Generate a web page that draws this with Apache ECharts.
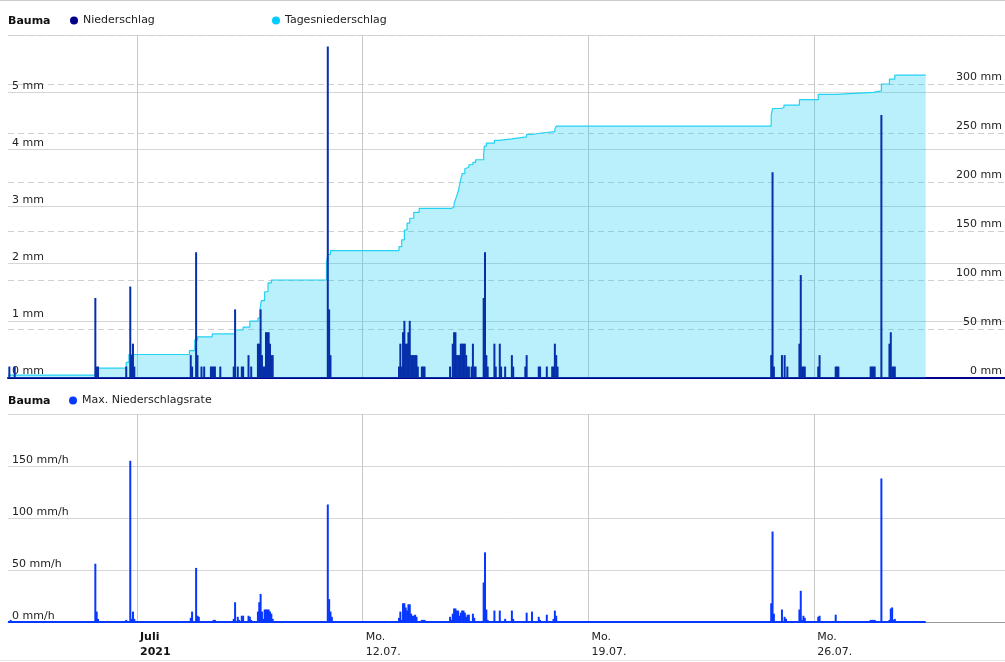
<!DOCTYPE html>
<html>
<head>
<meta charset="utf-8">
<script src="https://cdn.jsdelivr.net/npm/echarts@6/dist/echarts.min.js"></script>
<style>
html,body{margin:0;padding:0;background:#fff;}
#chart{width:1005px;height:662px;}
</style>
</head>
<body>
<div id="chart"></div>
<script>
// x values are hours since 01.07.2021 00:00
const station = 'Bauma';
const weekTicks = [96, 264, 432, 600];
const weekLabels = [['Juli', '2021'], ['Mo.', '12.07.'], ['Mo.', '19.07.'], ['Mo.', '26.07.']];
const xMaxHours = 742;

// Niederschlag (mm) per hour: [hour, mm]
const niederschlag = [
  [1,0.2],[5,0.2],[65,1.4],[66,0.2],[67,0.2],
  [88,0.2],[91,1.6],[92,0.4],[93,0.6],[94,0.2],
  [136,0.4],[137,0.2],[140,2.2],[141,0.4],
  [144,0.2],[146,0.2],[151,0.2],[152,0.2],[153,0.2],[154,0.2],[158,0.2],
  [168,0.2],[169,1.2],[171,0.2],[174,0.2],[175,0.2],[179,0.4],[181,0.2],
  [186,0.6],[187,0.6],[188,1.2],[189,0.4],[190,0.2],[191,0.2],[192,0.8],[193,0.8],[194,0.8],[195,0.6],[196,0.4],[197,0.4],
  [238,5.8],[239,1.2],[240,0.4],
  [291,0.2],[292,0.6],[293,0.2],[294,0.8],[295,1.0],[296,0.6],[297,0.6],[298,0.8],[299,1.0],[300,0.4],[301,0.4],[302,0.4],[303,0.4],[304,0.4],[305,0.2],
  [308,0.2],[309,0.2],[310,0.2],
  [329,0.2],[331,0.6],[332,0.8],[333,0.8],[334,0.4],[335,0.4],[336,0.4],[337,0.6],[338,0.6],[339,0.6],[340,0.6],[341,0.4],[342,0.2],[343,0.2],[345,0.2],[346,0.6],[347,0.2],[348,0.2],
  [354,1.4],[355,2.2],[356,0.4],[357,0.2],
  [362,0.6],[363,0.2],[366,0.6],[367,0.2],[370,0.2],[375,0.4],[376,0.2],[385,0.2],[386,0.4],[395,0.2],[396,0.2],[401,0.2],[405,0.2],[406,0.2],[407,0.6],[408,0.4],[409,0.2],
  [568,0.4],[569,3.6],[570,0.2],[576,0.4],[578,0.4],[580,0.2],[589,0.6],[590,1.8],[591,0.2],[592,0.2],[593,0.2],[603,0.2],[604,0.4],[616,0.2],[617,0.2],[618,0.2],
  [642,0.2],[643,0.2],[644,0.2],[645,0.2],[650,4.6],[656,0.6],[657,0.8],[658,0.2],[659,0.2],[660,0.2]
];

// Tagesniederschlag (cumulated mm): [hour, mm], value holds until next point
const tagesniederschlag = [
  [0,3],[65,6],[67,10],[88,16],[90,24],[135,28],[139,39],[141,42],[152,45],[169,49],[175,52],[180,58],
  [186,61],[187.5,69],[188.5,79],[191,88],[193.5,97],[196,100],[237,118],[238,126],[240,130],
  [291,134],[293,141],[295,151],[297,158],[299,163],[302,169],[306,173],[330,174.5],[332,178],[333,182],[334,186],
  [335,190],[336,196.5],[337,203],[338,208.5],[340,213.5],[341,215],[343,217.6],[346,220],[348,222.7],[354,228],
  [354.5,236.6],[356,239.6],[362,242.4],[365.5,244],[375,246],[386,248.5],[390,249.5],[394.5,250.5],[400.5,251.5],
  [407,254],[408,257],[568,268],[569,275],[575.5,276],[577.5,278.5],[589,284],[603,289.5],[616,291.5],[644,293],
  [650,300],[656,305],[660,309],[683,309]
];

// Max. Niederschlagsrate (mm/h): [hour, mm/h]
const maxRate = [
  [2,2],[6,1],[65,56],[66,10],[67,3],[68,1],[88,2],[91,155],[92,3],[93,10],[94,3],
  [136,4],[137,10],[140,52],[141,6],[142,5],[153,2],[154,2],[168,3],[169,19],[171,5],[172,2],[174,6],[175,6],
  [179,6],[180,5],[181,2],[186,10],[187,19],[188,27],[189,10],[190,3],[191,12],[192,12],[193,12],[194,12],[195,10],[196,8],[197,3],
  [238,113],[239,22],[240,10],[241,5],[242,1],
  [291,4],[292,10],[293,2],[294,18],[295,18],[296,14],[297,11],[298,17],[299,17],[300,8],[301,6],[302,6],[303,7],[304,5],
  [308,2],[309,2],[310,2],[311,1],
  [329,5],[330,2],[331,8],[332,13],[333,13],[334,11],[335,11],[336,6],[337,9],[338,11],[339,11],[340,9],[341,5],[342,7],[343,7],[344,1],
  [346,8],[347,4],[348,1],[354,38],[355,67],[356,12],[357,2],[362,11],[363,1],[366,11],[367,1],[370,3],[375,11],[376,3],
  [386,9],[387,1],[390,10],[395,5],[396,2],[401,7],[402,1],[406,3],[407,11],[408,6],[409,1],
  [568,18],[569,87],[570,8],[576,12],[578,5],[579,3],[589,12],[590,30],[591,2],[592,6],[593,4],[603,5],[604,6],[605,1],[616,7],
  [642,2],[643,2],[644,2],[645,2],[646,1],[650,138],[656,2],[657,13],[658,14],[659,2],[660,3],[661,1]
];

const lastHour = tagesniederschlag[tagesniederschlag.length - 1][0];
const rateBaseline = [[0, 0], [lastHour, 0]];

const FONT = 'DejaVu Sans';
const TXT = '#222';
const C_RAIN = '#00008b';
const C_RAIN_BAR = '#0630aa';
const C_DAY = '#00ccff';
const C_RATE = '#0838ff';

const chart = echarts.init(document.getElementById('chart'), null, {renderer: 'canvas'});

const xCommon = {
  type: 'value', min: 0, max: xMaxHours,
  axisTick: {show: false, customValues: weekTicks},
  splitLine: {show: true, lineStyle: {color: '#c8c8c8', width: 1}}
};

function legendBox(name, color, left, top) {
  return {
    data: [{name: name, itemStyle: {color: color}}],
    left: left, top: top, icon: 'circle', itemWidth: 8, itemHeight: 8, padding: 0,
    textStyle: {fontFamily: FONT, fontSize: 11, color: TXT}
  };
}

const option = {
  animation: false,
  backgroundColor: '#fff',
  textStyle: {fontFamily: FONT},
  graphic: [
    {type: 'rect', left: 0, top: 0, shape: {width: 1005, height: 1}, style: {fill: '#cccccc'}, silent: true},
    {type: 'rect', left: 0, top: 660, shape: {width: 1005, height: 1}, style: {fill: '#e8e8e8'}, silent: true},
    {type: 'text', left: 8, top: 16, style: {text: station, font: 'bold 11px "DejaVu Sans"', fill: '#111'}},
    {type: 'text', left: 8, top: 396, style: {text: station, font: 'bold 11px "DejaVu Sans"', fill: '#111'}}
  ],
  legend: [
    legendBox('Niederschlag', C_RAIN, 70, 15),
    legendBox('Tagesniederschlag', C_DAY, 272, 15),
    legendBox('Max. Niederschlagsrate', C_RATE, 69, 395)
  ],
  grid: [
    {left: 8, right: 0, top: 35, height: 343},
    {left: 8, right: 0, top: 414, height: 208}
  ],
  xAxis: [
    Object.assign({}, xCommon, {
      gridIndex: 0,
      axisLine: {show: true, lineStyle: {color: C_RAIN, width: 2}},
      axisLabel: {show: false, customValues: weekTicks}
    }),
    Object.assign({}, xCommon, {
      gridIndex: 1,
      axisLine: {show: true, lineStyle: {color: '#999999', width: 1}},
      axisLabel: {
        show: true, customValues: weekTicks, align: 'left', margin: 8,
        formatter: function (v) {
          const i = weekTicks.indexOf(v);
          if (i < 0) return '';
          const st = i === 0 ? 'b' : 'n';
          return '{' + st + '|' + weekLabels[i][0] + '}\n{' + st + '|' + weekLabels[i][1] + '}';
        },
        rich: {
          b: {fontFamily: FONT, fontSize: 11, fontWeight: 'bold', color: '#111', lineHeight: 15, padding: [0, 0, 0, 3]},
          n: {fontFamily: FONT, fontSize: 11, color: TXT, lineHeight: 15, padding: [0, 0, 0, 3]}
        }
      }
    })
  ],
  yAxis: [
    {
      gridIndex: 0, type: 'value', min: 0, max: 6, interval: 1, position: 'left',
      axisLine: {show: false}, axisTick: {show: false},
      axisLabel: {inside: true, margin: 4, showMaxLabel: false, verticalAlign: 'bottom', padding: [0, 0, 1, 0],
        fontFamily: FONT, fontSize: 11, color: TXT, formatter: '{value} mm'},
      splitLine: {show: true, lineStyle: {color: '#d6d6d6', width: 1}}
    },
    {
      gridIndex: 0, type: 'value', min: 0, max: 350, interval: 50, position: 'right',
      axisLine: {show: false}, axisTick: {show: false},
      axisLabel: {inside: true, margin: 3, showMaxLabel: false, verticalAlign: 'bottom', padding: [0, 0, 1, 0],
        fontFamily: FONT, fontSize: 11, color: TXT, formatter: '{value} mm'},
      splitLine: {show: true, lineStyle: {color: '#cfcfcf', width: 1, type: [6, 4]}}
    },
    {
      gridIndex: 1, type: 'value', min: 0, max: 200, interval: 50, position: 'left',
      axisLine: {show: false}, axisTick: {show: false},
      axisLabel: {inside: true, margin: 4, showMaxLabel: false, verticalAlign: 'bottom', padding: [0, 0, 0, 0],
        fontFamily: FONT, fontSize: 11, color: TXT, formatter: '{value} mm/h'},
      splitLine: {show: true, lineStyle: {color: '#d6d6d6', width: 1}}
    }
  ],
  series: [
    {
      name: 'Tagesniederschlag', type: 'line', xAxisIndex: 0, yAxisIndex: 1,
      data: tagesniederschlag, step: 'end', showSymbol: false, symbol: 'none',
      itemStyle: {color: C_DAY},
      lineStyle: {color: '#22d2f2', width: 1.2},
      areaStyle: {color: 'rgba(0,200,240,0.27)', opacity: 1, origin: 'start'},
      z: 2
    },
    {
      name: 'Niederschlag', type: 'bar', xAxisIndex: 0, yAxisIndex: 0,
      data: niederschlag, barWidth: 2,
      itemStyle: {color: C_RAIN_BAR},
      z: 3
    },
    {
      name: 'Max. Niederschlagsrate', type: 'bar', xAxisIndex: 1, yAxisIndex: 2,
      data: maxRate, barWidth: 2,
      itemStyle: {color: C_RATE},
      z: 3
    },
    {
      name: 'baseline', type: 'line', xAxisIndex: 1, yAxisIndex: 2,
      data: rateBaseline, showSymbol: false, symbol: 'none',
      lineStyle: {color: C_RATE, width: 2}, z: 4, silent: true
    }
  ]
};
chart.setOption(option);
</script>
</body>
</html>
